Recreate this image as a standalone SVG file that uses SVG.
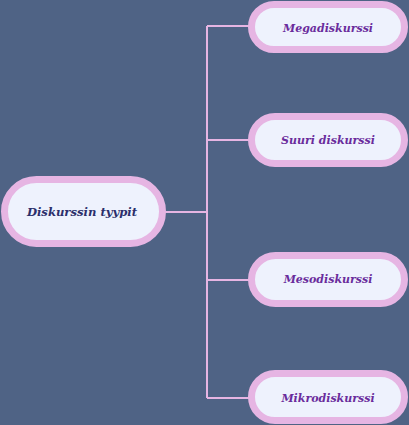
<svg xmlns="http://www.w3.org/2000/svg" width="409" height="425" viewBox="0 0 409 425">
<style>
.node rect{fill:#EEF2FD;stroke:#E6B5E3;stroke-width:7}
.conn{stroke:#E6B5E3;stroke-width:2;fill:none}
text{font-family:"DejaVu Serif","Liberation Serif",serif;font-style:italic;font-weight:bold;text-anchor:middle;dominant-baseline:central}
.root text{fill:#2B2F6B;font-size:11.6px}
.child text{fill:#6A2C9C;font-size:11px}
</style>
<rect width="409" height="425" fill="#4F6385"/>
<g id="connectors">
<path class="conn" d="M165 212H207M207 26V398M207 26H250M207 140H250M207 280H250M207 398H250"/>
</g>
<g id="root" class="node root">
<rect x="4.5" y="179.5" width="158" height="64" rx="32"/>
<text x="82" y="212">Diskurssin tyypit</text>
</g>
<g id="mega" class="node child">
<rect x="251.5" y="4.5" width="153" height="45" rx="22.5"/>
<text x="328" y="28">Megadiskurssi</text>
</g>
<g id="suuri" class="node child">
<rect x="251.5" y="116.5" width="153" height="47" rx="23.5"/>
<text x="328" y="140">Suuri diskurssi</text>
</g>
<g id="meso" class="node child">
<rect x="251.5" y="255.5" width="153" height="48" rx="24"/>
<text x="328" y="279">Mesodiskurssi</text>
</g>
<g id="mikro" class="node child">
<rect x="251.5" y="373.5" width="153" height="47" rx="23.5"/>
<text x="328" y="398">Mikrodiskurssi</text>
</g>
</svg>
